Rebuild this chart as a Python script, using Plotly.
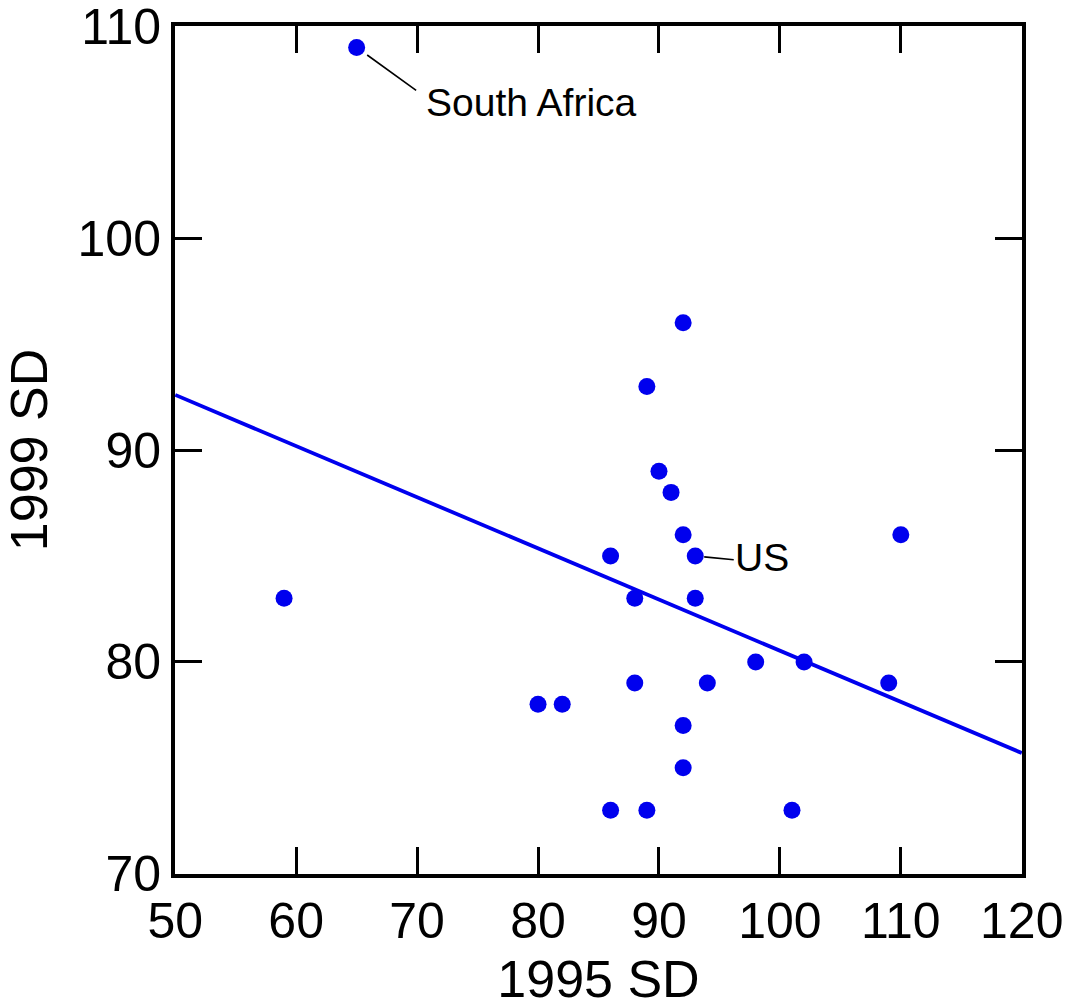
import plotly.graph_objects as go

sd_1995 = [65, 59, 80, 82, 86, 86, 88, 88, 89, 89, 90, 91, 92, 92, 92, 92, 93, 93, 94, 98, 101, 102, 109, 110]
sd_1999 = [109, 83, 78, 78, 85, 73, 83, 79, 93, 73, 89, 88, 96, 86, 77, 75, 85, 83, 79, 80, 73, 80, 79, 86]
fit_x = [50, 120]
fit_y = [92.6, 75.7]
x_ticks = [50, 60, 70, 80, 90, 100, 110, 120]
y_ticks = [70, 80, 90, 100, 110]

FONT = "Liberation Sans, Arial, sans-serif"
BLUE = "#0000ee"

fig = go.Figure()
fig.add_trace(go.Scatter(x=fit_x, y=fit_y, mode="lines",
                         line=dict(color=BLUE, width=3.8), hoverinfo="skip",
                         cliponaxis=True))
fig.add_trace(go.Scatter(x=sd_1995, y=sd_1999, mode="markers",
                         marker=dict(color=BLUE, size=17, line=dict(width=0))))

# labels
fig.add_annotation(x=65, y=109, text="", showarrow=True, arrowhead=0,
                   arrowwidth=1.6, arrowcolor="black", ax=61, ay=44, standoff=13)
fig.add_annotation(x=65, y=109, text="South Africa", showarrow=False,
                   xanchor="left", yanchor="middle", xshift=67, yshift=-55,
                   font=dict(family=FONT, size=39, color="black"))
fig.add_annotation(x=93, y=85, text="", showarrow=True, arrowhead=0,
                   arrowwidth=1.6, arrowcolor="black", ax=40, ay=4, standoff=9)
fig.add_annotation(x=93, y=85, text="US", showarrow=False,
                   xanchor="left", yanchor="middle", xshift=38, yshift=-2,
                   font=dict(family=FONT, size=39, color="black"))

axis_common = dict(showgrid=False, zeroline=False, showline=True, linewidth=4,
                   linecolor="black", mirror="ticks", ticks="inside", ticklen=27,
                   tickwidth=3, tickcolor="black", ticklabeloverflow="allow",
                   tickfont=dict(family=FONT, size=50, color="black"))

fig.update_xaxes(range=[49.98, 120.02], tickvals=x_ticks, ticklabelstandoff=0,
                 title=dict(text="1995 SD", font=dict(family=FONT, size=52, color="black"),
                            standoff=32),
                 **axis_common)
fig.update_yaxes(range=[69.99, 110.01], tickvals=y_ticks, ticklabelstandoff=0,
                 title=dict(text="1999 SD", font=dict(family=FONT, size=52, color="black"),
                            standoff=15),
                 **axis_common)

fig.update_layout(width=1066, height=1008, showlegend=False,
                  plot_bgcolor="white", paper_bgcolor="white",
                  margin=dict(l=175, r=44, t=26, b=134, autoexpand=False),
                  font=dict(family=FONT))

fig.write_html("out.html")
